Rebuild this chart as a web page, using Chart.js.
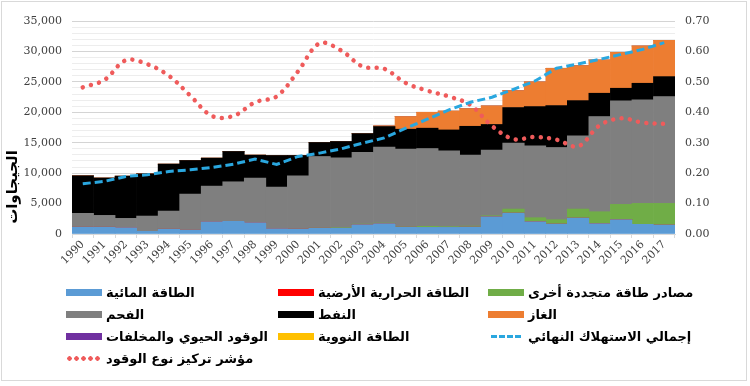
<!DOCTYPE html>
<html>
<head>
<meta charset="utf-8">
<script src="https://cdn.jsdelivr.net/npm/chart.js@4.4.0/dist/chart.umd.min.js"></script>
<style>
  html, body { margin: 0; padding: 0; background: #fff; }
  #wrap { position: relative; width: 750px; height: 386px; }
  #frame { position: absolute; left: 1px; top: 1px; width: 746px; height: 380px; border: 1px solid #d9d9d9; box-sizing: border-box; pointer-events: none; }
  #legend { position: absolute; left: 66px; top: 281px; display: grid; grid-template-columns: 212px 210px 210px; grid-auto-rows: 22px; }
  .item { display: flex; align-items: center; }
  .sw { width: 36px; height: 7px; margin-right: 4px; flex: none; }
  .txt { font: bold 13px "DejaVu Sans", sans-serif; color: #000; direction: rtl; white-space: nowrap; }
</style>
</head>
<body>
<div id="wrap">
  <canvas id="myChart" width="750" height="386"></canvas>
  <div id="frame"></div>
  <div id="legend"></div>
</div>
<script>
const years = ["1990","1991","1992","1993","1994","1995","1996","1997","1998","1999","2000","2001","2002","2003","2004","2005","2006","2007","2008","2009","2010","2011","2012","2013","2014","2015","2016","2017"];

const hydro = [1150,1150,1040,440,820,660,2020,2080,1860,870,820,980,930,1530,1700,1150,1090,1090,1150,2840,3440,2020,1640,2620,1700,2350,1590,1480];
const geothermal = [0,0,0,0,0,0,0,0,0,0,0,0,0,0,0,0,0,0,0,0,0,0,0,0,0,0,0,0];
const otherRenew = [0,0,0,0,0,0,0,0,0,0,0,50,80,100,100,110,170,110,150,160,660,660,710,1480,1960,2520,3440,3550];
const coal = [2250,1910,1530,2510,2950,5900,5850,6500,7330,6840,8750,11710,11510,11770,12500,12680,12790,12470,11660,10780,10830,11810,11870,12030,15640,17000,17000,17550];
const oil = [6170,6140,6930,6950,7710,5520,4600,4980,3770,5190,3330,2300,2680,3100,3360,3280,3340,3430,4740,4220,5850,6450,6880,5790,3830,2080,2740,3280];
const gas = [0,0,0,0,0,0,0,0,0,0,0,0,0,0,110,2080,2610,3100,2900,3050,2780,4050,6130,5750,5470,5900,6130,5960];
const biofuel = [0,0,0,0,0,0,0,0,0,0,0,0,0,0,0,0,0,0,0,0,0,0,0,0,0,0,0,0];
const nuclear = [0,0,0,0,0,0,0,0,0,0,0,0,0,0,0,0,0,0,0,0,0,0,0,0,0,0,0,0];
const totalFinal = [8260,8640,9460,9730,10280,10550,10930,11480,12300,11430,12740,13290,14000,14930,15800,17390,18860,20400,21650,22470,23780,25150,27230,27940,28700,29520,30340,31440];
const fuelIndex = [0.482,0.506,0.571,0.558,0.52,0.454,0.388,0.388,0.433,0.452,0.535,0.627,0.603,0.55,0.543,0.496,0.471,0.452,0.424,0.355,0.312,0.319,0.31,0.288,0.357,0.38,0.366,0.362];

const leftTicks = [0, 5000, 10000, 15000, 20000, 25000, 30000, 35000];

function bar(label, data, color) {
    return { type: "bar", label, data, backgroundColor: color, borderWidth: 0, order: 2, stack: "energy", yAxisID: "y" };
}

const datasets = [
    bar("الطاقة المائية", hydro, "#5b9bd5"),
    bar("الطاقة الحرارية الأرضية", geothermal, "#ff0000"),
    bar("مصادر طاقة متجددة أخرى", otherRenew, "#70ad47"),
    bar("الفحم", coal, "#7f7f7f"),
    bar("النفط", oil, "#000000"),
    bar("الغاز", gas, "#ed7d31"),
    bar("الوقود الحيوي والمخلفات", biofuel, "#7030a0"),
    bar("الطاقة النووية", nuclear, "#ffc000"),
    {
        type: "line", label: "إجمالي الاستهلاك النهائي", data: totalFinal,
        borderColor: "#2aa7df", borderWidth: 3, borderDash: [8, 4],
        pointRadius: 0, tension: 0, order: 0, stack: "total", yAxisID: "y", legendKind: "dash"
    },
    {
        type: "line", label: "مؤشر تركيز نوع الوقود", data: fuelIndex,
        borderColor: "#ef5b5b", borderWidth: 4.5, borderDash: [0.01, 8.4], borderCapStyle: "round",
        pointRadius: 0, tension: 0.35, order: 0, stack: "index", yAxisID: "y1", legendKind: "dots"
    }
];

const htmlLegend = {
    id: "htmlLegend",
    afterUpdate(chart) {
        const box = document.getElementById("legend");
        box.innerHTML = "";
        chart.data.datasets.forEach((ds) => {
            const item = document.createElement("div");
            item.className = "item";
            const sw = document.createElement("span");
            sw.className = "sw";
            if (ds.legendKind === "dash") {
                sw.style.height = "3px";
                sw.style.width = "30px";
                sw.style.marginLeft = "3px";
                sw.style.marginRight = "7px";
                sw.style.background = "repeating-linear-gradient(90deg," + ds.borderColor + " 0 6px, transparent 6px 8px)";
            } else if (ds.legendKind === "dots") {
                sw.style.height = "5px";
                sw.style.width = "34px";
                sw.style.marginRight = "6px";
                sw.style.background = "radial-gradient(circle, " + ds.borderColor + " 2px, transparent 2.5px) 0 0 / 7px 5px repeat-x";
            } else {
                sw.style.background = ds.backgroundColor;
            }
            const txt = document.createElement("span");
            txt.className = "txt";
            txt.textContent = ds.label;
            item.appendChild(sw);
            item.appendChild(txt);
            box.appendChild(item);
        });
    }
};

const yTitle = {
    id: "yTitle",
    afterDraw(chart) {
        const ctx = chart.ctx;
        ctx.save();
        ctx.translate(13, chart.chartArea.bottom - 47);
        ctx.rotate(-Math.PI / 2);
        ctx.font = "bold 15px 'DejaVu Sans'";
        ctx.fillStyle = "#000";
        ctx.textAlign = "center";
        ctx.textBaseline = "middle";
        ctx.fillText("الجيجاوات", 0, 0);
        ctx.restore();
    }
};

const tickFont = { family: "'DejaVu Serif', serif", size: 11 };

new Chart(document.getElementById("myChart"), {
    data: { labels: years, datasets },
    plugins: [htmlLegend, yTitle],
    options: {
        responsive: false,
        animation: false,
        layout: { padding: { top: 21, left: 0, right: 0, bottom: 112 } },
        datasets: { bar: { barPercentage: 1, categoryPercentage: 1 } },
        plugins: { legend: { display: false }, tooltip: { enabled: false } },
        scales: {
            x: {
                stacked: true,
                grid: { display: true, drawOnChartArea: false, drawTicks: true, tickLength: 4, color: "#d9d9d9" },
                border: { color: "#d9d9d9" },
                ticks: { font: tickFont, color: "#404040", minRotation: 45, maxRotation: 45, autoSkip: false, padding: 0 },
                afterFit: (s) => { s.height = 40; }
            },
            y: {
                stacked: true,
                min: 0, max: 35000,
                border: { display: false },
                grid: {
                    drawTicks: false,
                    color: (c) => (leftTicks.includes(c.tick.value) ? "#d4d4d4" : "#ededed")
                },
                ticks: {
                    stepSize: 1000, autoSkip: false, padding: 10, font: tickFont, color: "#404040",
                    callback: (v) => (leftTicks.includes(v) ? v.toLocaleString("en-US") : "")
                },
                afterFit: (s) => { s.width = 72; }
            },
            y1: {
                position: "right",
                min: 0, max: 0.7,
                border: { display: false },
                grid: { drawOnChartArea: false, drawTicks: false },
                ticks: { stepSize: 0.1, padding: 10, font: tickFont, color: "#404040", callback: (v) => v.toFixed(2) },
                afterFit: (s) => { s.width = 75; }
            }
        }
    }
});
</script>
</body>
</html>
